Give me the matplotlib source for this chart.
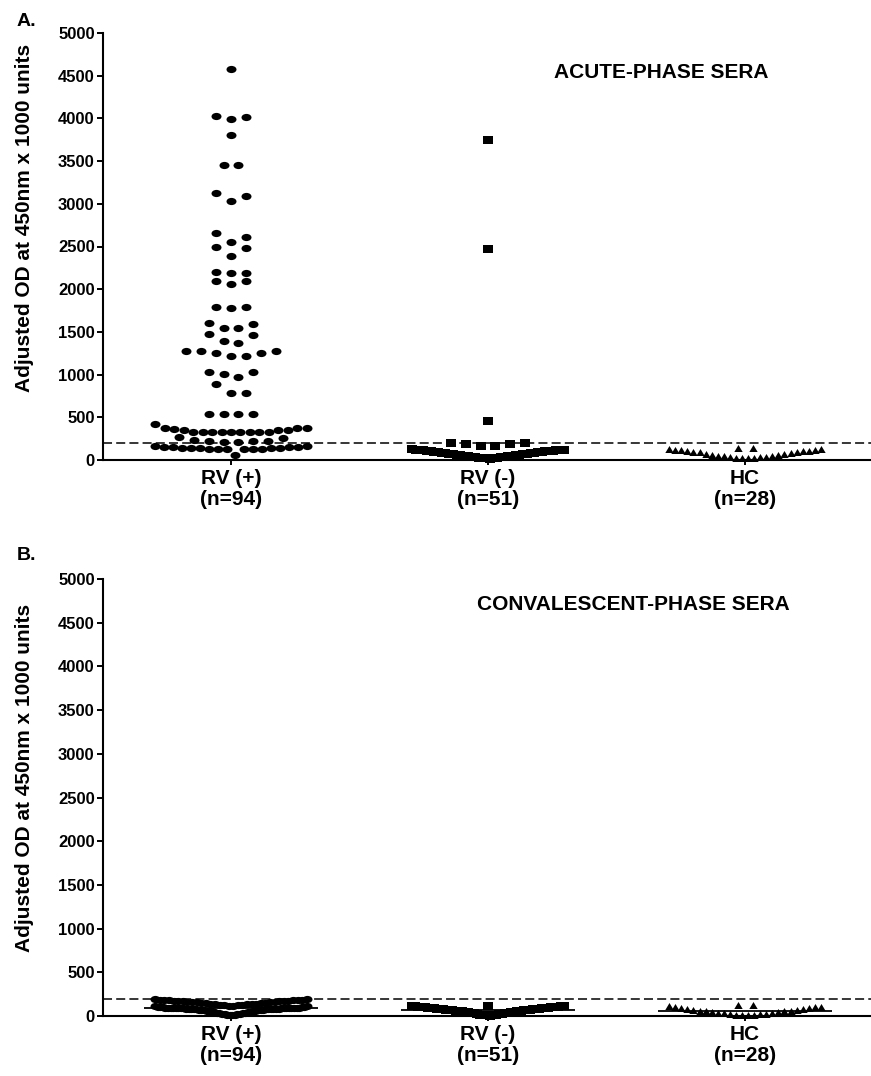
import numpy as np
import matplotlib.pyplot as plt
from matplotlib.path import Path
from matplotlib.transforms import Affine2D

plt.rcParams['font.family'] = ['Liberation Sans', 'DejaVu Sans']
plt.rcParams['lines.scale_dashes'] = False

groups = ['RV (+)\n(n=94)', 'RV (-)\n(n=51)', 'HC\n(n=28)']
cutoff = 200

# acute-phase sera, values
acute_rv_pos = [59, 125, 129, 129, 129, 129, 129, 137, 137, 137, 141, 145, 148, 148, 148, 156, 164, 164,
                207, 214, 220, 226, 226, 234, 254, 266,
                324, 324, 324, 324, 324, 324, 324, 324, 324, 351, 351, 351, 360, 371, 371, 371, 422,
                542, 542, 542, 542, 789, 789, 886, 976, 1011, 1034, 1034,
                1214, 1218, 1253, 1253, 1273, 1273, 1280, 1374, 1394, 1464, 1480,
                1550, 1550, 1589, 1601, 1783, 1795, 1795, 2061, 2093, 2093, 2186, 2193, 2196,
                2389, 2486, 2498, 2549, 2608, 2655, 3033, 3091, 3127, 3458, 3458, 3805,
                3997, 4020, 4028, 4575]
acute_rv_neg = [15, 18, 21, 23, 26, 28, 31, 34, 36, 39, 42, 45, 47, 50, 54, 57, 60, 62, 66, 69, 71,
                75, 78, 80, 84, 86, 89, 93, 95, 98, 101, 103, 106, 108, 110, 112, 114, 117, 119, 121,
                122, 124,
                164, 164, 187, 187, 203, 203, 457, 2470, 3750]
acute_hc = [20, 22, 25, 27, 30, 34, 38, 42, 47, 52, 58, 64, 70, 76, 82, 88, 94, 99, 103, 107,
            111, 115, 119, 122, 125, 129, 140, 140]

# convalescent-phase sera
conv_rv_pos = [6, 9, 12, 15, 18, 21, 24, 27, 31, 34, 37, 40, 43, 46, 49, 52, 55, 58, 60, 62,
               64, 66, 68, 70, 72, 74, 76, 77, 78, 79, 80, 81, 82, 83, 84, 85, 85, 86, 86, 87,
               87, 88, 88, 89, 89, 90, 91, 92, 93, 94, 95, 96, 97, 99, 101, 103, 105, 108, 111, 114,
               118, 120, 122, 125, 128, 130, 133, 135, 138, 140, 142, 145, 147, 150, 152, 155, 157,
               160, 162, 164, 166, 168, 170, 172, 174, 176, 178, 180, 182, 184, 186, 188, 190, 192]
conv_rv_neg = [4, 6, 8, 11, 14, 17, 20, 23, 26, 29, 32, 35, 38, 41, 44, 47, 50, 53, 55, 57,
               59, 61, 63, 65, 67, 69, 71, 73, 75, 77, 79, 81, 83, 85, 87, 89, 91, 93, 95, 97,
               99, 101, 103, 105, 107, 108, 109, 110, 111, 112, 114]
conv_hc = [8, 10, 12, 15, 18, 22, 26, 30, 35, 40, 45, 50, 54, 56, 58, 62, 67, 72, 78, 84,
           90, 95, 100, 104, 108, 112, 126, 126]

ROW_SPAN = 110    # values closer than this share one row of the scatter
SLOT = 0.058      # spacing of neighbours in a row (category units)
MAX_HALF = 0.295  # widest a row may get on each side


def swarm(values, centre):
    """GraphPad-like column scatter: sorted values packed in rows,
    placed centre, right, left, right, left ..."""
    vals = np.sort(np.asarray(values, dtype=float))
    xs, ys = [], []
    i = 0
    while i < len(vals):
        j = i
        while j < len(vals) and vals[j] < vals[i] + ROW_SPAN:
            j += 1
        row = vals[i:j]
        k = len(row)
        step = SLOT if k < 2 else min(SLOT, 2 * MAX_HALF / (k - 1))
        for n, v in enumerate(row):
            if k % 2:
                off = ((n + 1) // 2) * (1 if n % 2 else -1)
            else:
                off = (n // 2 + 0.5) * (1 if n % 2 == 0 else -1)
            xs.append(centre + off * step)
            ys.append(v)
        i = j
    return np.array(xs), np.array(ys)


ellipse = Path.unit_circle().transformed(Affine2D().scale(1, 0.72))
rect = Path([(-0.5, -0.36), (0.5, -0.36), (0.5, 0.36), (-0.5, 0.36), (-0.5, -0.36)], closed=True)
tri = Path([(-0.5, -0.42), (0.5, -0.42), (0, 0.42), (-0.5, -0.42)], closed=True)
markers = [(ellipse, 7.2), (rect, 7.6), (tri, 6.0)]

fig = plt.figure(figsize=(8.71, 10.76), dpi=100)
axA = fig.add_axes([103 / 871, 616 / 1076, 768 / 871, 427 / 1076])
axB = fig.add_axes([103 / 871, 60 / 1076, 768 / 871, 437 / 1076])

panels = [
    (axA, [acute_rv_pos, acute_rv_neg, acute_hc], False),
    (axB, [conv_rv_pos, conv_rv_neg, conv_hc], True),
]

for ax, data, show_median in panels:
    for pos, (vals, (mk, ms)) in enumerate(zip(data, markers)):
        x, y = swarm(vals, pos)
        ax.plot(x, y, ls='none', marker=mk, ms=ms, color='black', mec='black', mew=0,
                clip_on=False, zorder=3)
        if show_median:
            ax.hlines(np.median(vals), pos - 0.337, pos + 0.337, color='black', lw=1.3, zorder=4)
    ax.axhline(cutoff, color='black', lw=1.1, ls=(0, (6.5, 3.0)), zorder=2)
    ax.set_xlim(-0.498, 2.49)
    ax.set_ylim(0, 5000)
    ax.set_yticks(np.arange(0, 5001, 500))
    ax.set_xticks([0, 1, 2])
    ax.set_xticklabels(groups, fontsize=15, fontweight='bold', linespacing=1.15)
    for lab in ax.get_yticklabels():
        lab.set_fontweight('bold')
        lab.set_fontsize(12)
    for s in ['top', 'right']:
        ax.spines[s].set_visible(False)
    for s in ['left', 'bottom']:
        ax.spines[s].set_linewidth(1.5)
    ax.tick_params(axis='y', direction='out', length=4.5, width=1.4, pad=1.5)
    ax.tick_params(axis='x', direction='out', length=3.5, width=1.4, pad=3)

ylab = 'Adjusted OD at 450nm x 1000 units'
fig.text(25 / 871, 1 - 218 / 1076, ylab, rotation=90, ha='center', va='center',
         fontsize=15, fontweight='bold')
fig.text(25 / 871, 1 - 778 / 1076, ylab, rotation=90, ha='center', va='center',
         fontsize=15, fontweight='bold')
fig.text(768 / 871, 1 - 73 / 1076, 'ACUTE-PHASE SERA', ha='right', va='center',
         fontsize=15, fontweight='bold')
fig.text(790 / 871, 1 - 605 / 1076, 'CONVALESCENT-PHASE SERA', ha='right', va='center',
         fontsize=15, fontweight='bold')
fig.text(17 / 871, 1 - 21 / 1076, 'A.', ha='left', va='center', fontsize=14, fontweight='bold')
fig.text(17 / 871, 1 - 555 / 1076, 'B.', ha='left', va='center', fontsize=14, fontweight='bold')

fig.savefig('out.png', dpi=100)
